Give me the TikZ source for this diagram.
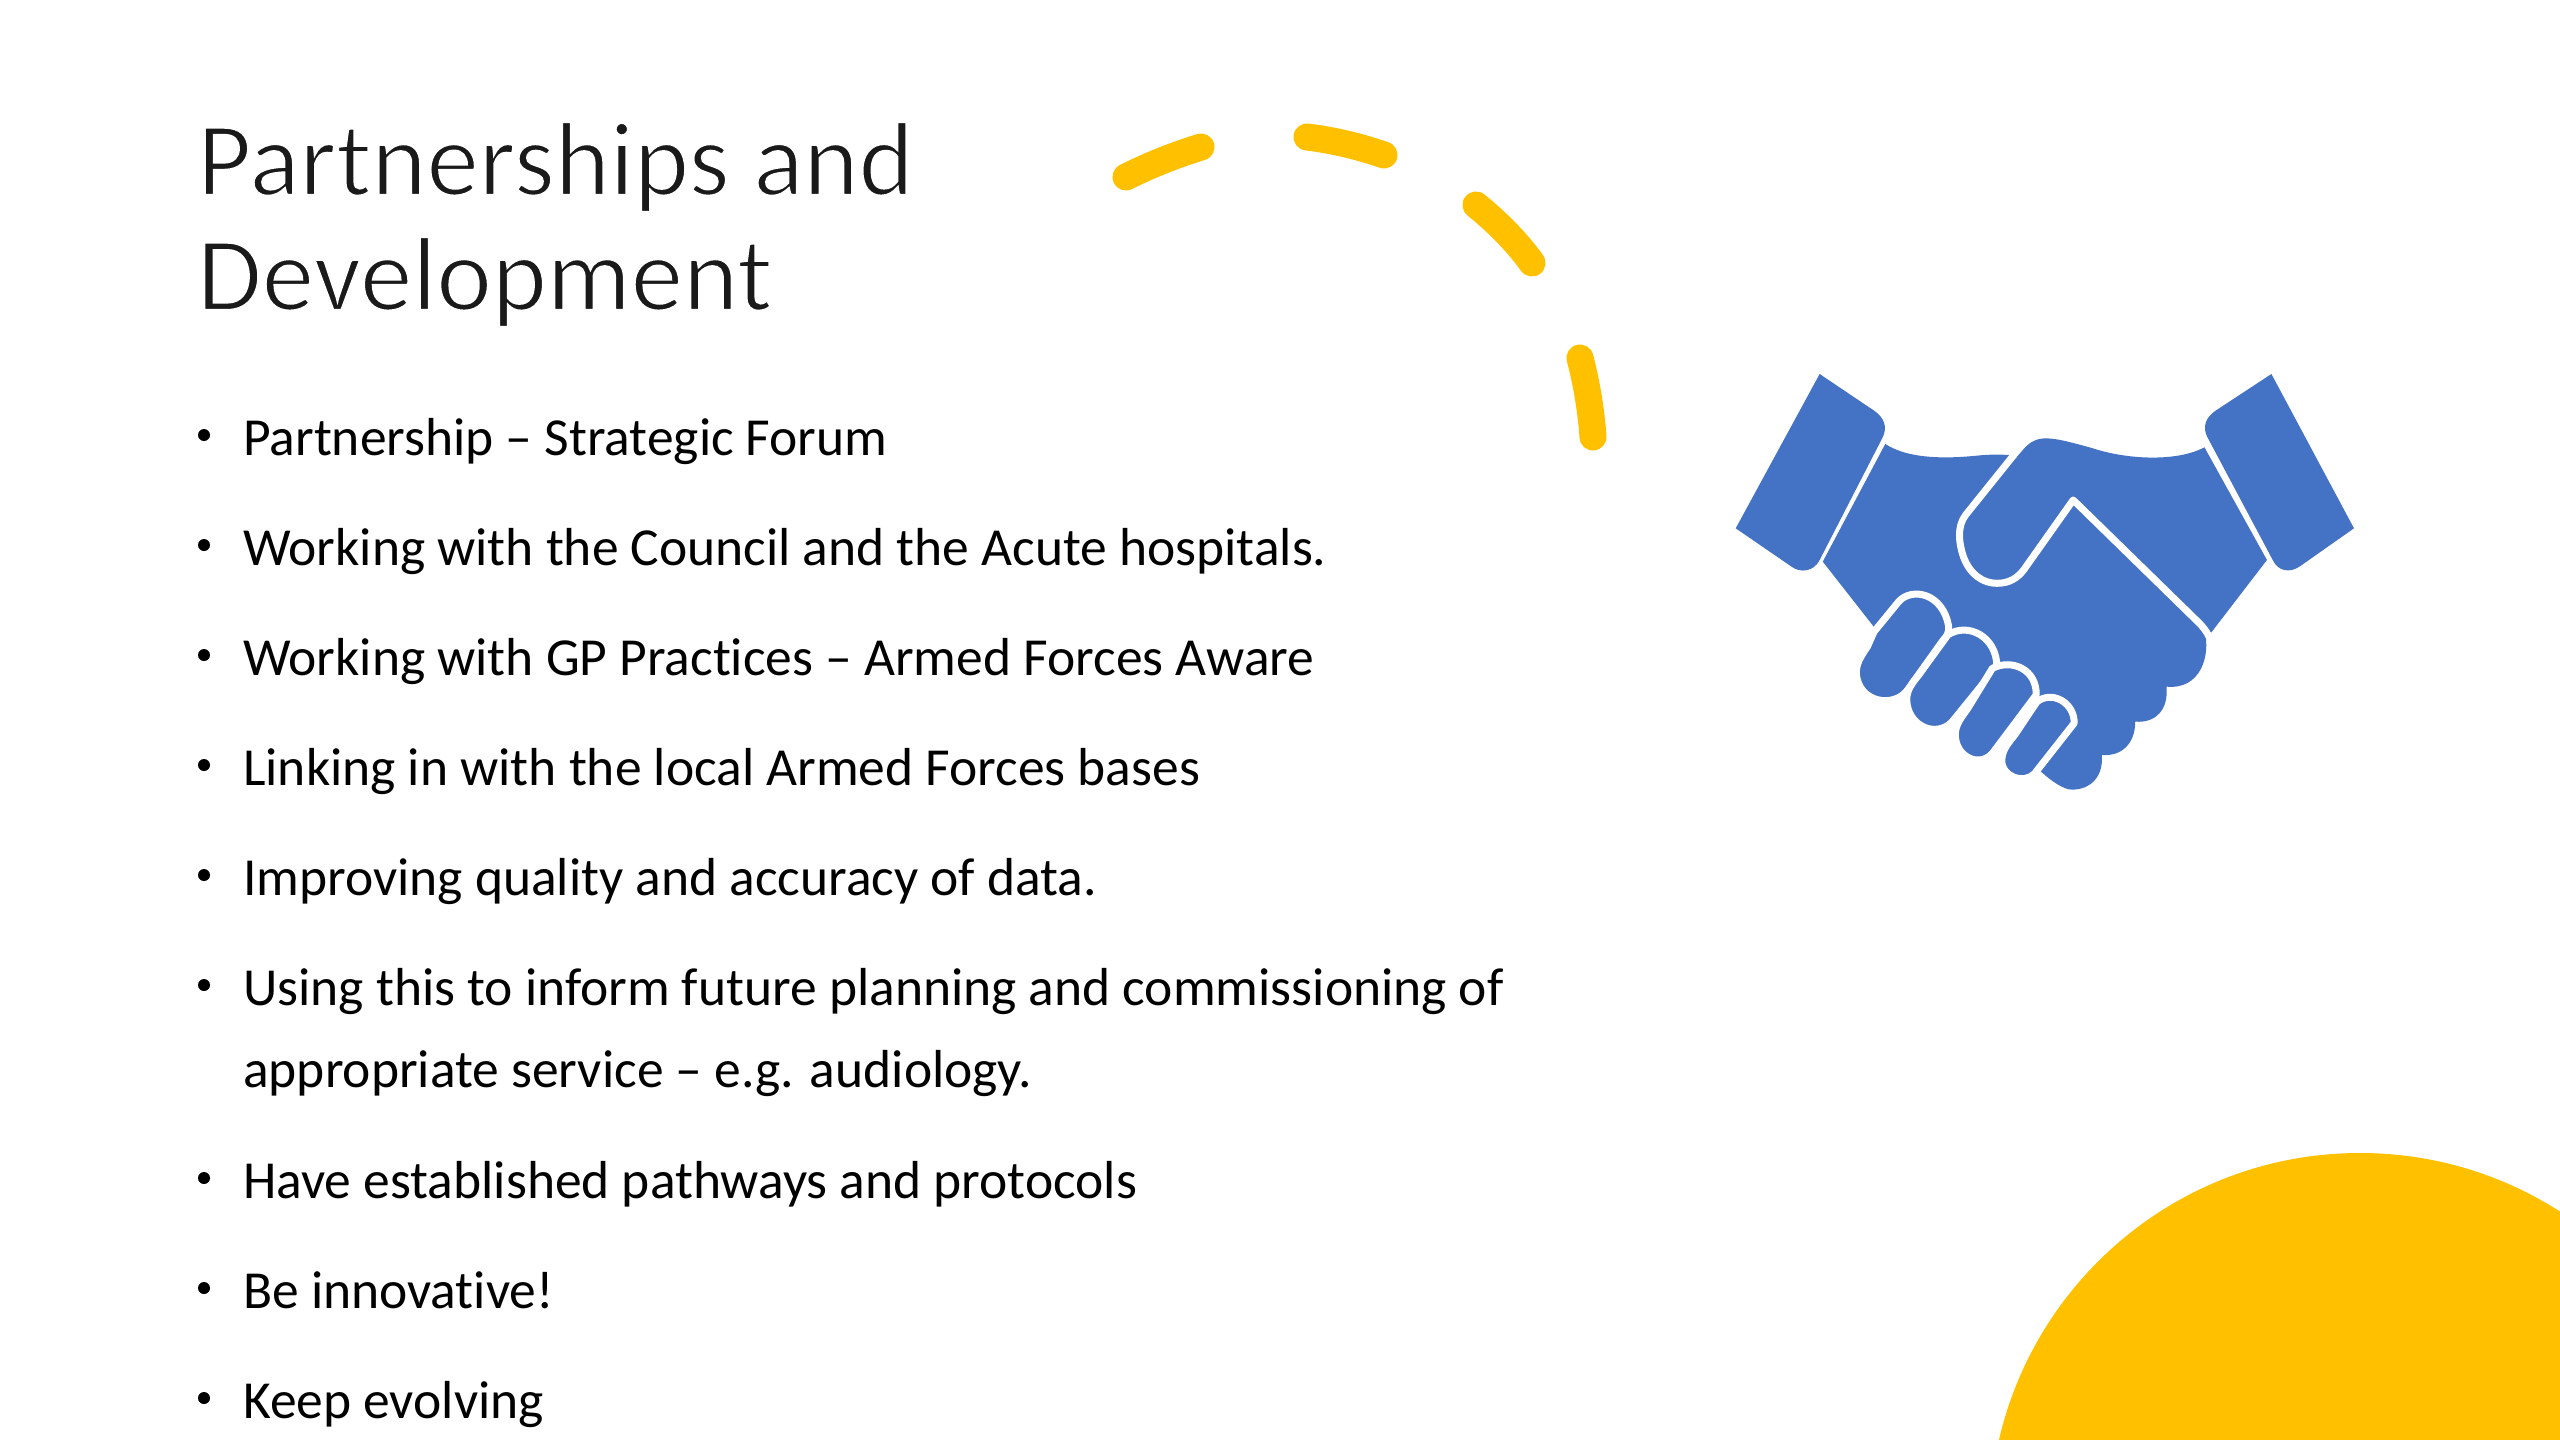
\documentclass[tikz,border=0pt]{standalone}
\usepackage{fontspec}
\setmainfont{Carlito}[Ligatures=NoCommon]
\definecolor{sunny}{HTML}{FFC000}
\definecolor{hand}{HTML}{4472C4}
\definecolor{ink}{HTML}{1A1A1A}
\newcommand{\thinstart}{\special{pdf:code q 2 Tr 1 1 1 RG 2.2 w}}
\newcommand{\thinstop}{\special{pdf:code 0 Tr Q}}
\tikzset{
  titletext/.style={anchor=base west,inner sep=0pt,align=left,text=ink,font=\fontsize{105}{115}\selectfont},
  bodytext/.style={anchor=base west,inner sep=0pt,align=left,text=black,font=\fontsize{53.5}{82.5}\selectfont},
  bulletdot/.style={circle,fill=black,inner sep=0pt,minimum size=12pt},
  dashstroke/.style={draw=sunny,line width=27pt,line cap=round},
  gap/.style={draw=white,line width=7pt,line join=round},
  fingerpiece/.style={fill=hand,draw=white,line width=7pt,line join=round}
}
\begin{document}
\begin{tikzpicture}[x=1pt,y=-1pt]
\fill[white,use as bounding box] (0,0) rectangle (2560,1440);
% big sun clipped at the slide edge
\begin{scope}
\clip (0,0) rectangle (2560,1440);
\fill[sunny] (2360,1523.5) circle[radius=370.5pt];
\end{scope}
% dashed arc
\draw[dashstroke] (1126,177) .. controls (1150,165) and (1175,155) .. (1201,147);
\draw[dashstroke] (1307,137) .. controls (1332,140) and (1358,146) .. (1384,155);
\draw[dashstroke] (1476,205) .. controls (1497,222) and (1517,242) .. (1532,263);
\draw[dashstroke] (1580,358) .. controls (1587,385) and (1591,410) .. (1593,437);
% title
\node[titletext] (title) at (197,310) {\thinstart Partnerships and\\Development\thinstop};
% bullets
\foreach \nm/\yy/\ln/\txt in {
 a/455/455/{Partnership – Strategic Forum},
 b/565/565/{Working with the Council and the Acute hospitals.},
 c/675/675/{Working with GP Practices – Armed Forces Aware},
 d/785/785/{Linking in with the local Armed Forces bases},
 e/895/895/{Improving quality and accuracy of data.},
 f/1005/1087.5/{Using this to inform future planning and commissioning of\\appropriate service – e.g. audiology.},
 g/1198/1198/{Have established pathways and protocols},
 h/1308/1308/{Be innovative!},
 i/1418/1418/{Keep evolving}}{
  \node[bulletdot] (dot\nm) at (204,\yy-20) {};
  \node[bodytext] (line\nm) at (243,\ln) {\txt};
}
% handshake
\begin{scope}[shift={(1700,340)},x=0.4464pt,y=-0.3333pt]
 % cuffs
 \fill[hand] (268,102) -- (390,212) .. controls (412,232) and (420,260) .. (410,290)
   -- (268,660) .. controls (255,695) and (225,700) .. (205,680) -- (80,565) -- cycle;
 \fill[hand] (1280,102) -- (1155,212) .. controls (1133,232) and (1125,260) .. (1136,290)
   -- (1283,660) .. controls (1295,695) and (1322,700) .. (1345,678) -- (1465,565) -- cycle;
 % left hand: forearm and palm with its lobes
 \fill[hand] (415,312) .. controls (470,360) and (560,355) .. (620,347) .. controls (650,343) and (675,343) .. (700,346)
   -- (900,500) -- (1130,870) .. controls (1145,950) and (1120,1050) .. (1045,1040)
   .. controls (1050,1110) and (1020,1150) .. (975,1145)
   .. controls (975,1210) and (945,1250) .. (900,1245)
   .. controls (905,1320) and (865,1355) .. (825,1348)
   .. controls (805,1340) and (785,1320) .. (768,1300)
   -- (600,1100) -- (395,870) -- (275,665) -- cycle;
 % right hand: forearm and thumb
 \fill[hand] (1130,322) .. controls (1070,365) and (960,360) .. (880,325)
   .. controls (840,310) and (800,295) .. (775,295)
   .. controls (750,295) and (735,310) .. (720,335)
   -- (595,525) .. controls (575,560) and (580,610) .. (590,650)
   .. controls (605,705) and (635,730) .. (665,730)
   .. controls (695,730) and (712,712) .. (725,690)
   -- (836,475) -- (1145,878) -- (1270,660) -- cycle;
 % white line round the thumb and along the palm
 \draw[gap] (703,345) -- (595,525) .. controls (575,560) and (580,610) .. (590,650)
   .. controls (605,705) and (635,730) .. (665,730)
   .. controls (695,730) and (712,712) .. (725,690)
   -- (836,480) -- (1115,845)
   .. controls (1128,862) and (1135,875) .. (1140,890);
 % fingers
 \path[fingerpiece] (390,875) -- (445,785) .. controls (475,740) and (545,760) .. (557,860)
   .. controls (558,880) and (552,890) .. (545,900) -- (465,1050)
   .. controls (435,1105) and (355,1090) .. (350,1000)
   .. controls (350,970) and (360,950) .. (375,920) -- cycle;
 \path[fingerpiece] (555,885) .. controls (600,845) and (665,890) .. (665,980)
   -- (565,1145) .. controls (530,1195) and (465,1160) .. (463,1080)
   .. controls (463,1050) and (475,1030) .. (490,1005) -- cycle;
 \path[fingerpiece] (655,985) .. controls (700,955) and (755,990) .. (753,1065)
   -- (655,1240) .. controls (625,1285) and (570,1250) .. (572,1180)
   .. controls (573,1150) and (590,1125) .. (600,1105) -- cycle;
 \path[fingerpiece] (755,1085) .. controls (790,1050) and (840,1090) .. (838,1150)
   -- (750,1300) .. controls (725,1335) and (675,1310) .. (676,1260)
   .. controls (677,1230) and (690,1210) .. (705,1185) -- cycle;
\end{scope}
\end{tikzpicture}
\end{document}
